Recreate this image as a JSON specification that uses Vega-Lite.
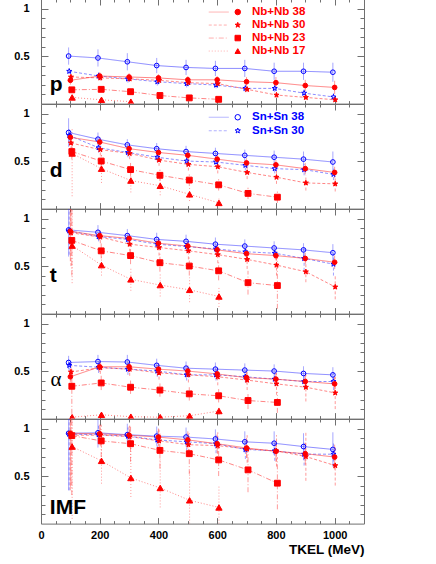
{
"$schema": "https://vega.github.io/schema/vega-lite/v6.json",
"background": "white",
"padding": {"left": 13, "top": -2, "right": 5, "bottom": 0},
"spacing": 0,
"bounds": "flush",
"config": {
  "font": "Liberation Sans",
  "view": {"stroke": "#707070", "strokeWidth": 1},
  "axis": {"domain": false, "grid": false, "tickColor": "#707070", "tickWidth": 1, "labelFont": "Liberation Sans", "labelFontWeight": "bold", "labelFontSize": 11, "labelColor": "#000", "labelOverlap": false, "labelFlush": false, "titleFont": "Liberation Sans", "titleFontWeight": "bold", "titleColor": "#000"},
  "legend": {"labelFont": "Liberation Sans", "labelFontWeight": "bold", "labelFontSize": 12, "padding": 0}
},
"resolve": {"legend": {"shape": "independent", "strokeDash": "independent"}},
"datasets": {"d": [
{"p":"p","s":"Sn+Sn","E":38,"x":94,"y":0.50,"lo":0.41,"hi":0.59},
{"p":"p","s":"Sn+Sn","E":38,"x":194,"y":0.48,"lo":0.39,"hi":0.57},
{"p":"p","s":"Sn+Sn","E":38,"x":294,"y":0.44,"lo":0.35,"hi":0.53},
{"p":"p","s":"Sn+Sn","E":38,"x":394,"y":0.40,"lo":0.32,"hi":0.48},
{"p":"p","s":"Sn+Sn","E":38,"x":494,"y":0.38,"lo":0.30,"hi":0.46},
{"p":"p","s":"Sn+Sn","E":38,"x":594,"y":0.37,"lo":0.29,"hi":0.45},
{"p":"p","s":"Sn+Sn","E":38,"x":694,"y":0.37,"lo":0.28,"hi":0.46},
{"p":"p","s":"Sn+Sn","E":38,"x":794,"y":0.34,"lo":0.25,"hi":0.43},
{"p":"p","s":"Sn+Sn","E":38,"x":894,"y":0.34,"lo":0.25,"hi":0.43},
{"p":"p","s":"Sn+Sn","E":38,"x":994,"y":0.33,"lo":0.23,"hi":0.43},
{"p":"p","s":"Sn+Sn","E":30,"x":96,"y":0.34,"lo":0.31,"hi":0.37},
{"p":"p","s":"Sn+Sn","E":30,"x":196,"y":0.29,"lo":0.25,"hi":0.33},
{"p":"p","s":"Sn+Sn","E":30,"x":296,"y":0.26,"lo":0.22,"hi":0.30},
{"p":"p","s":"Sn+Sn","E":30,"x":396,"y":0.23,"lo":0.19,"hi":0.27},
{"p":"p","s":"Sn+Sn","E":30,"x":496,"y":0.21,"lo":0.17,"hi":0.25},
{"p":"p","s":"Sn+Sn","E":30,"x":596,"y":0.195,"lo":0.16,"hi":0.23},
{"p":"p","s":"Sn+Sn","E":30,"x":696,"y":0.16,"lo":0.12,"hi":0.20},
{"p":"p","s":"Sn+Sn","E":30,"x":796,"y":0.16,"lo":0.12,"hi":0.20},
{"p":"p","s":"Sn+Sn","E":30,"x":896,"y":0.11,"lo":0.07,"hi":0.15},
{"p":"p","s":"Sn+Sn","E":30,"x":996,"y":0.07,"lo":0.03,"hi":0.11},
{"p":"p","s":"Nb+Nb","E":38,"x":100,"y":0.245,"lo":0.20,"hi":0.29},
{"p":"p","s":"Nb+Nb","E":38,"x":200,"y":0.29,"lo":0.25,"hi":0.33},
{"p":"p","s":"Nb+Nb","E":38,"x":300,"y":0.28,"lo":0.24,"hi":0.32},
{"p":"p","s":"Nb+Nb","E":38,"x":400,"y":0.27,"lo":0.23,"hi":0.31},
{"p":"p","s":"Nb+Nb","E":38,"x":500,"y":0.25,"lo":0.21,"hi":0.29},
{"p":"p","s":"Nb+Nb","E":38,"x":600,"y":0.25,"lo":0.21,"hi":0.29},
{"p":"p","s":"Nb+Nb","E":38,"x":700,"y":0.23,"lo":0.18,"hi":0.28},
{"p":"p","s":"Nb+Nb","E":38,"x":800,"y":0.22,"lo":0.16,"hi":0.28},
{"p":"p","s":"Nb+Nb","E":38,"x":900,"y":0.19,"lo":0.13,"hi":0.25},
{"p":"p","s":"Nb+Nb","E":38,"x":1000,"y":0.17,"lo":0.10,"hi":0.24},
{"p":"p","s":"Nb+Nb","E":30,"x":102,"y":0.28,"lo":0.25,"hi":0.31},
{"p":"p","s":"Nb+Nb","E":30,"x":202,"y":0.27,"lo":0.24,"hi":0.30},
{"p":"p","s":"Nb+Nb","E":30,"x":302,"y":0.26,"lo":0.23,"hi":0.29},
{"p":"p","s":"Nb+Nb","E":30,"x":402,"y":0.245,"lo":0.21,"hi":0.28},
{"p":"p","s":"Nb+Nb","E":30,"x":502,"y":0.22,"lo":0.19,"hi":0.25},
{"p":"p","s":"Nb+Nb","E":30,"x":602,"y":0.21,"lo":0.18,"hi":0.24},
{"p":"p","s":"Nb+Nb","E":30,"x":702,"y":0.15,"lo":0.12,"hi":0.18},
{"p":"p","s":"Nb+Nb","E":30,"x":802,"y":0.09,"lo":0.06,"hi":0.12},
{"p":"p","s":"Nb+Nb","E":30,"x":902,"y":0.065,"lo":0.04,"hi":0.09},
{"p":"p","s":"Nb+Nb","E":30,"x":1002,"y":0.04,"lo":0.02,"hi":0.06},
{"p":"p","s":"Nb+Nb","E":23,"x":105,"y":0.145,"lo":0.12,"hi":0.17},
{"p":"p","s":"Nb+Nb","E":23,"x":205,"y":0.15,"lo":0.13,"hi":0.17},
{"p":"p","s":"Nb+Nb","E":23,"x":305,"y":0.125,"lo":0.10,"hi":0.15},
{"p":"p","s":"Nb+Nb","E":23,"x":405,"y":0.085,"lo":0.07,"hi":0.10},
{"p":"p","s":"Nb+Nb","E":23,"x":505,"y":0.06,"lo":0.045,"hi":0.075},
{"p":"p","s":"Nb+Nb","E":23,"x":605,"y":0.045,"lo":0.03,"hi":0.06},
{"p":"p","s":"Nb+Nb","E":17,"x":106,"y":0.065,"lo":0.05,"hi":0.08},
{"p":"p","s":"Nb+Nb","E":17,"x":206,"y":0.04,"lo":0.03,"hi":0.05},
{"p":"p","s":"Nb+Nb","E":17,"x":306,"y":0.02,"lo":0.01,"hi":0.03},

{"p":"d","s":"Sn+Sn","E":38,"x":94,"y":0.80,"lo":0.65,"hi":0.95},
{"p":"d","s":"Sn+Sn","E":38,"x":194,"y":0.73,"lo":0.66,"hi":0.80},
{"p":"d","s":"Sn+Sn","E":38,"x":294,"y":0.67,"lo":0.61,"hi":0.73},
{"p":"d","s":"Sn+Sn","E":38,"x":394,"y":0.63,"lo":0.57,"hi":0.69},
{"p":"d","s":"Sn+Sn","E":38,"x":494,"y":0.60,"lo":0.54,"hi":0.66},
{"p":"d","s":"Sn+Sn","E":38,"x":594,"y":0.58,"lo":0.52,"hi":0.64},
{"p":"d","s":"Sn+Sn","E":38,"x":694,"y":0.56,"lo":0.50,"hi":0.62},
{"p":"d","s":"Sn+Sn","E":38,"x":794,"y":0.54,"lo":0.47,"hi":0.61},
{"p":"d","s":"Sn+Sn","E":38,"x":894,"y":0.52,"lo":0.44,"hi":0.60},
{"p":"d","s":"Sn+Sn","E":38,"x":994,"y":0.49,"lo":0.38,"hi":0.60},
{"p":"d","s":"Sn+Sn","E":30,"x":96,"y":0.77,"lo":0.70,"hi":0.84},
{"p":"d","s":"Sn+Sn","E":30,"x":196,"y":0.64,"lo":0.59,"hi":0.69},
{"p":"d","s":"Sn+Sn","E":30,"x":296,"y":0.59,"lo":0.54,"hi":0.64},
{"p":"d","s":"Sn+Sn","E":30,"x":396,"y":0.54,"lo":0.49,"hi":0.59},
{"p":"d","s":"Sn+Sn","E":30,"x":496,"y":0.50,"lo":0.45,"hi":0.55},
{"p":"d","s":"Sn+Sn","E":30,"x":596,"y":0.49,"lo":0.44,"hi":0.54},
{"p":"d","s":"Sn+Sn","E":30,"x":696,"y":0.455,"lo":0.40,"hi":0.51},
{"p":"d","s":"Sn+Sn","E":30,"x":796,"y":0.42,"lo":0.37,"hi":0.47},
{"p":"d","s":"Sn+Sn","E":30,"x":896,"y":0.41,"lo":0.35,"hi":0.47},
{"p":"d","s":"Sn+Sn","E":30,"x":996,"y":0.36,"lo":0.30,"hi":0.42},
{"p":"d","s":"Nb+Nb","E":38,"x":100,"y":0.75,"lo":0.70,"hi":0.80},
{"p":"d","s":"Nb+Nb","E":38,"x":200,"y":0.70,"lo":0.65,"hi":0.75},
{"p":"d","s":"Nb+Nb","E":38,"x":300,"y":0.63,"lo":0.58,"hi":0.68},
{"p":"d","s":"Nb+Nb","E":38,"x":400,"y":0.59,"lo":0.54,"hi":0.64},
{"p":"d","s":"Nb+Nb","E":38,"x":500,"y":0.56,"lo":0.51,"hi":0.61},
{"p":"d","s":"Nb+Nb","E":38,"x":600,"y":0.52,"lo":0.47,"hi":0.57},
{"p":"d","s":"Nb+Nb","E":38,"x":700,"y":0.48,"lo":0.43,"hi":0.53},
{"p":"d","s":"Nb+Nb","E":38,"x":800,"y":0.46,"lo":0.41,"hi":0.51},
{"p":"d","s":"Nb+Nb","E":38,"x":900,"y":0.42,"lo":0.36,"hi":0.48},
{"p":"d","s":"Nb+Nb","E":38,"x":1000,"y":0.38,"lo":0.32,"hi":0.44},
{"p":"d","s":"Nb+Nb","E":30,"x":102,"y":0.69,"lo":0.62,"hi":0.76},
{"p":"d","s":"Nb+Nb","E":30,"x":202,"y":0.62,"lo":0.56,"hi":0.68},
{"p":"d","s":"Nb+Nb","E":30,"x":302,"y":0.58,"lo":0.52,"hi":0.64},
{"p":"d","s":"Nb+Nb","E":30,"x":402,"y":0.51,"lo":0.45,"hi":0.57},
{"p":"d","s":"Nb+Nb","E":30,"x":502,"y":0.465,"lo":0.40,"hi":0.53},
{"p":"d","s":"Nb+Nb","E":30,"x":602,"y":0.44,"lo":0.37,"hi":0.51},
{"p":"d","s":"Nb+Nb","E":30,"x":702,"y":0.38,"lo":0.31,"hi":0.45},
{"p":"d","s":"Nb+Nb","E":30,"x":802,"y":0.33,"lo":0.26,"hi":0.40},
{"p":"d","s":"Nb+Nb","E":30,"x":902,"y":0.27,"lo":0.19,"hi":0.35},
{"p":"d","s":"Nb+Nb","E":30,"x":1002,"y":0.26,"lo":0.18,"hi":0.34},
{"p":"d","s":"Nb+Nb","E":23,"x":105,"y":0.60,"lo":0.52,"hi":0.68},
{"p":"d","s":"Nb+Nb","E":23,"x":205,"y":0.50,"lo":0.44,"hi":0.56},
{"p":"d","s":"Nb+Nb","E":23,"x":305,"y":0.41,"lo":0.34,"hi":0.48},
{"p":"d","s":"Nb+Nb","E":23,"x":405,"y":0.35,"lo":0.29,"hi":0.41},
{"p":"d","s":"Nb+Nb","E":23,"x":505,"y":0.30,"lo":0.24,"hi":0.36},
{"p":"d","s":"Nb+Nb","E":23,"x":605,"y":0.25,"lo":0.19,"hi":0.31},
{"p":"d","s":"Nb+Nb","E":23,"x":705,"y":0.16,"lo":0.10,"hi":0.22},
{"p":"d","s":"Nb+Nb","E":23,"x":805,"y":0.12,"lo":0.06,"hi":0.18},
{"p":"d","s":"Nb+Nb","E":17,"x":106,"y":0.58,"lo":0.13,"hi":0.85},
{"p":"d","s":"Nb+Nb","E":17,"x":206,"y":0.42,"lo":0.27,"hi":0.57},
{"p":"d","s":"Nb+Nb","E":17,"x":306,"y":0.295,"lo":0.17,"hi":0.45},
{"p":"d","s":"Nb+Nb","E":17,"x":406,"y":0.24,"lo":0.14,"hi":0.34},
{"p":"d","s":"Nb+Nb","E":17,"x":506,"y":0.15,"lo":0.08,"hi":0.24},
{"p":"d","s":"Nb+Nb","E":17,"x":606,"y":0.06,"lo":0.0,"hi":0.12},

{"p":"t","s":"Sn+Sn","E":38,"x":94,"y":0.88,"lo":0.60,"hi":1.2},
{"p":"t","s":"Sn+Sn","E":38,"x":194,"y":0.855,"lo":0.78,"hi":0.93},
{"p":"t","s":"Sn+Sn","E":38,"x":294,"y":0.82,"lo":0.75,"hi":0.89},
{"p":"t","s":"Sn+Sn","E":38,"x":394,"y":0.78,"lo":0.71,"hi":0.85},
{"p":"t","s":"Sn+Sn","E":38,"x":494,"y":0.76,"lo":0.69,"hi":0.83},
{"p":"t","s":"Sn+Sn","E":38,"x":594,"y":0.73,"lo":0.66,"hi":0.80},
{"p":"t","s":"Sn+Sn","E":38,"x":694,"y":0.71,"lo":0.64,"hi":0.78},
{"p":"t","s":"Sn+Sn","E":38,"x":794,"y":0.69,"lo":0.62,"hi":0.76},
{"p":"t","s":"Sn+Sn","E":38,"x":894,"y":0.67,"lo":0.60,"hi":0.74},
{"p":"t","s":"Sn+Sn","E":38,"x":994,"y":0.64,"lo":0.55,"hi":0.73},
{"p":"t","s":"Sn+Sn","E":30,"x":96,"y":0.87,"lo":0.62,"hi":1.2},
{"p":"t","s":"Sn+Sn","E":30,"x":196,"y":0.81,"lo":0.76,"hi":0.86},
{"p":"t","s":"Sn+Sn","E":30,"x":296,"y":0.78,"lo":0.73,"hi":0.83},
{"p":"t","s":"Sn+Sn","E":30,"x":396,"y":0.73,"lo":0.68,"hi":0.78},
{"p":"t","s":"Sn+Sn","E":30,"x":496,"y":0.705,"lo":0.65,"hi":0.76},
{"p":"t","s":"Sn+Sn","E":30,"x":596,"y":0.68,"lo":0.63,"hi":0.73},
{"p":"t","s":"Sn+Sn","E":30,"x":696,"y":0.65,"lo":0.60,"hi":0.70},
{"p":"t","s":"Sn+Sn","E":30,"x":796,"y":0.635,"lo":0.58,"hi":0.69},
{"p":"t","s":"Sn+Sn","E":30,"x":896,"y":0.58,"lo":0.45,"hi":0.71},
{"p":"t","s":"Sn+Sn","E":30,"x":996,"y":0.52,"lo":0.40,"hi":0.64},
{"p":"t","s":"Nb+Nb","E":38,"x":100,"y":0.865,"lo":0.55,"hi":1.2},
{"p":"t","s":"Nb+Nb","E":38,"x":200,"y":0.82,"lo":0.77,"hi":0.87},
{"p":"t","s":"Nb+Nb","E":38,"x":300,"y":0.79,"lo":0.74,"hi":0.84},
{"p":"t","s":"Nb+Nb","E":38,"x":400,"y":0.74,"lo":0.69,"hi":0.79},
{"p":"t","s":"Nb+Nb","E":38,"x":500,"y":0.71,"lo":0.66,"hi":0.76},
{"p":"t","s":"Nb+Nb","E":38,"x":600,"y":0.67,"lo":0.62,"hi":0.72},
{"p":"t","s":"Nb+Nb","E":38,"x":700,"y":0.63,"lo":0.58,"hi":0.68},
{"p":"t","s":"Nb+Nb","E":38,"x":800,"y":0.61,"lo":0.56,"hi":0.66},
{"p":"t","s":"Nb+Nb","E":38,"x":900,"y":0.58,"lo":0.52,"hi":0.64},
{"p":"t","s":"Nb+Nb","E":38,"x":1000,"y":0.54,"lo":0.47,"hi":0.61},
{"p":"t","s":"Nb+Nb","E":30,"x":102,"y":0.85,"lo":0.50,"hi":1.2},
{"p":"t","s":"Nb+Nb","E":30,"x":202,"y":0.805,"lo":0.74,"hi":0.87},
{"p":"t","s":"Nb+Nb","E":30,"x":302,"y":0.73,"lo":0.65,"hi":0.81},
{"p":"t","s":"Nb+Nb","E":30,"x":402,"y":0.695,"lo":0.61,"hi":0.78},
{"p":"t","s":"Nb+Nb","E":30,"x":502,"y":0.66,"lo":0.57,"hi":0.75},
{"p":"t","s":"Nb+Nb","E":30,"x":602,"y":0.62,"lo":0.53,"hi":0.71},
{"p":"t","s":"Nb+Nb","E":30,"x":702,"y":0.57,"lo":0.47,"hi":0.67},
{"p":"t","s":"Nb+Nb","E":30,"x":802,"y":0.51,"lo":0.40,"hi":0.62},
{"p":"t","s":"Nb+Nb","E":30,"x":902,"y":0.44,"lo":0.33,"hi":0.55},
{"p":"t","s":"Nb+Nb","E":30,"x":1002,"y":0.28,"lo":0.15,"hi":0.41},
{"p":"t","s":"Nb+Nb","E":23,"x":105,"y":0.77,"lo":0.40,"hi":1.2},
{"p":"t","s":"Nb+Nb","E":23,"x":205,"y":0.66,"lo":0.58,"hi":0.74},
{"p":"t","s":"Nb+Nb","E":23,"x":305,"y":0.61,"lo":0.52,"hi":0.70},
{"p":"t","s":"Nb+Nb","E":23,"x":405,"y":0.535,"lo":0.44,"hi":0.63},
{"p":"t","s":"Nb+Nb","E":23,"x":505,"y":0.50,"lo":0.40,"hi":0.60},
{"p":"t","s":"Nb+Nb","E":23,"x":605,"y":0.45,"lo":0.35,"hi":0.55},
{"p":"t","s":"Nb+Nb","E":23,"x":705,"y":0.325,"lo":0.20,"hi":0.45},
{"p":"t","s":"Nb+Nb","E":23,"x":805,"y":0.295,"lo":0.05,"hi":0.60},
{"p":"t","s":"Nb+Nb","E":17,"x":106,"y":0.715,"lo":0.32,"hi":1.2},
{"p":"t","s":"Nb+Nb","E":17,"x":206,"y":0.51,"lo":0.40,"hi":0.62},
{"p":"t","s":"Nb+Nb","E":17,"x":306,"y":0.36,"lo":0.24,"hi":0.48},
{"p":"t","s":"Nb+Nb","E":17,"x":406,"y":0.30,"lo":0.18,"hi":0.42},
{"p":"t","s":"Nb+Nb","E":17,"x":506,"y":0.25,"lo":0.12,"hi":0.38},
{"p":"t","s":"Nb+Nb","E":17,"x":606,"y":0.18,"lo":0.07,"hi":0.29},

{"p":"a","s":"Sn+Sn","E":38,"x":94,"y":0.59,"lo":0.52,"hi":0.66},
{"p":"a","s":"Sn+Sn","E":38,"x":194,"y":0.60,"lo":0.53,"hi":0.67},
{"p":"a","s":"Sn+Sn","E":38,"x":294,"y":0.595,"lo":0.52,"hi":0.67},
{"p":"a","s":"Sn+Sn","E":38,"x":394,"y":0.56,"lo":0.49,"hi":0.63},
{"p":"a","s":"Sn+Sn","E":38,"x":494,"y":0.53,"lo":0.46,"hi":0.60},
{"p":"a","s":"Sn+Sn","E":38,"x":594,"y":0.52,"lo":0.45,"hi":0.59},
{"p":"a","s":"Sn+Sn","E":38,"x":694,"y":0.51,"lo":0.44,"hi":0.58},
{"p":"a","s":"Sn+Sn","E":38,"x":794,"y":0.50,"lo":0.43,"hi":0.57},
{"p":"a","s":"Sn+Sn","E":38,"x":894,"y":0.475,"lo":0.40,"hi":0.55},
{"p":"a","s":"Sn+Sn","E":38,"x":994,"y":0.46,"lo":0.38,"hi":0.54},
{"p":"a","s":"Sn+Sn","E":30,"x":96,"y":0.56,"lo":0.50,"hi":0.62},
{"p":"a","s":"Sn+Sn","E":30,"x":196,"y":0.54,"lo":0.48,"hi":0.60},
{"p":"a","s":"Sn+Sn","E":30,"x":296,"y":0.52,"lo":0.46,"hi":0.58},
{"p":"a","s":"Sn+Sn","E":30,"x":396,"y":0.50,"lo":0.44,"hi":0.56},
{"p":"a","s":"Sn+Sn","E":30,"x":496,"y":0.46,"lo":0.40,"hi":0.52},
{"p":"a","s":"Sn+Sn","E":30,"x":596,"y":0.46,"lo":0.40,"hi":0.52},
{"p":"a","s":"Sn+Sn","E":30,"x":696,"y":0.44,"lo":0.38,"hi":0.50},
{"p":"a","s":"Sn+Sn","E":30,"x":796,"y":0.415,"lo":0.35,"hi":0.48},
{"p":"a","s":"Sn+Sn","E":30,"x":896,"y":0.39,"lo":0.32,"hi":0.46},
{"p":"a","s":"Sn+Sn","E":30,"x":996,"y":0.39,"lo":0.30,"hi":0.48},
{"p":"a","s":"Nb+Nb","E":38,"x":100,"y":0.44,"lo":0.38,"hi":0.50},
{"p":"a","s":"Nb+Nb","E":38,"x":200,"y":0.545,"lo":0.49,"hi":0.60},
{"p":"a","s":"Nb+Nb","E":38,"x":300,"y":0.545,"lo":0.49,"hi":0.60},
{"p":"a","s":"Nb+Nb","E":38,"x":400,"y":0.52,"lo":0.46,"hi":0.58},
{"p":"a","s":"Nb+Nb","E":38,"x":500,"y":0.50,"lo":0.44,"hi":0.56},
{"p":"a","s":"Nb+Nb","E":38,"x":600,"y":0.47,"lo":0.41,"hi":0.53},
{"p":"a","s":"Nb+Nb","E":38,"x":700,"y":0.43,"lo":0.37,"hi":0.49},
{"p":"a","s":"Nb+Nb","E":38,"x":800,"y":0.415,"lo":0.35,"hi":0.48},
{"p":"a","s":"Nb+Nb","E":38,"x":900,"y":0.39,"lo":0.32,"hi":0.46},
{"p":"a","s":"Nb+Nb","E":38,"x":1000,"y":0.365,"lo":0.29,"hi":0.44},
{"p":"a","s":"Nb+Nb","E":30,"x":102,"y":0.49,"lo":0.40,"hi":0.58},
{"p":"a","s":"Nb+Nb","E":30,"x":202,"y":0.535,"lo":0.47,"hi":0.60},
{"p":"a","s":"Nb+Nb","E":30,"x":302,"y":0.52,"lo":0.45,"hi":0.59},
{"p":"a","s":"Nb+Nb","E":30,"x":402,"y":0.48,"lo":0.41,"hi":0.55},
{"p":"a","s":"Nb+Nb","E":30,"x":502,"y":0.46,"lo":0.38,"hi":0.54},
{"p":"a","s":"Nb+Nb","E":30,"x":602,"y":0.44,"lo":0.35,"hi":0.53},
{"p":"a","s":"Nb+Nb","E":30,"x":702,"y":0.405,"lo":0.30,"hi":0.51},
{"p":"a","s":"Nb+Nb","E":30,"x":802,"y":0.365,"lo":0.25,"hi":0.48},
{"p":"a","s":"Nb+Nb","E":30,"x":902,"y":0.33,"lo":0.18,"hi":0.48},
{"p":"a","s":"Nb+Nb","E":30,"x":1002,"y":0.27,"lo":0.10,"hi":0.44},
{"p":"a","s":"Nb+Nb","E":23,"x":105,"y":0.34,"lo":0.05,"hi":0.55},
{"p":"a","s":"Nb+Nb","E":23,"x":205,"y":0.375,"lo":0.30,"hi":0.45},
{"p":"a","s":"Nb+Nb","E":23,"x":305,"y":0.33,"lo":0.26,"hi":0.40},
{"p":"a","s":"Nb+Nb","E":23,"x":405,"y":0.30,"lo":0.23,"hi":0.37},
{"p":"a","s":"Nb+Nb","E":23,"x":505,"y":0.26,"lo":0.19,"hi":0.33},
{"p":"a","s":"Nb+Nb","E":23,"x":605,"y":0.24,"lo":0.17,"hi":0.31},
{"p":"a","s":"Nb+Nb","E":23,"x":705,"y":0.19,"lo":0.10,"hi":0.28},
{"p":"a","s":"Nb+Nb","E":23,"x":805,"y":0.17,"lo":0.06,"hi":0.28},
{"p":"a","s":"Nb+Nb","E":17,"x":106,"y":0.015,"lo":0.0,"hi":0.03},
{"p":"a","s":"Nb+Nb","E":17,"x":206,"y":0.04,"lo":0.02,"hi":0.06},
{"p":"a","s":"Nb+Nb","E":17,"x":306,"y":0.02,"lo":0.0,"hi":0.04},
{"p":"a","s":"Nb+Nb","E":17,"x":406,"y":0.015,"lo":0.0,"hi":0.03},
{"p":"a","s":"Nb+Nb","E":17,"x":506,"y":0.03,"lo":0.01,"hi":0.05},
{"p":"a","s":"Nb+Nb","E":17,"x":606,"y":0.08,"lo":0.04,"hi":0.12},

{"p":"IMF","s":"Sn+Sn","E":38,"x":94,"y":0.95,"lo":0.35,"hi":1.2},
{"p":"IMF","s":"Sn+Sn","E":38,"x":194,"y":0.955,"lo":0.80,"hi":1.1},
{"p":"IMF","s":"Sn+Sn","E":38,"x":294,"y":0.935,"lo":0.82,"hi":1.05},
{"p":"IMF","s":"Sn+Sn","E":38,"x":394,"y":0.92,"lo":0.82,"hi":1.02},
{"p":"IMF","s":"Sn+Sn","E":38,"x":494,"y":0.91,"lo":0.81,"hi":1.01},
{"p":"IMF","s":"Sn+Sn","E":38,"x":594,"y":0.89,"lo":0.79,"hi":0.99},
{"p":"IMF","s":"Sn+Sn","E":38,"x":694,"y":0.86,"lo":0.75,"hi":0.97},
{"p":"IMF","s":"Sn+Sn","E":38,"x":794,"y":0.845,"lo":0.72,"hi":0.97},
{"p":"IMF","s":"Sn+Sn","E":38,"x":894,"y":0.81,"lo":0.67,"hi":0.95},
{"p":"IMF","s":"Sn+Sn","E":38,"x":994,"y":0.78,"lo":0.60,"hi":0.96},
{"p":"IMF","s":"Sn+Sn","E":30,"x":96,"y":0.94,"lo":0.35,"hi":1.2},
{"p":"IMF","s":"Sn+Sn","E":30,"x":196,"y":0.935,"lo":0.84,"hi":1.03},
{"p":"IMF","s":"Sn+Sn","E":30,"x":296,"y":0.92,"lo":0.83,"hi":1.01},
{"p":"IMF","s":"Sn+Sn","E":30,"x":396,"y":0.88,"lo":0.79,"hi":0.97},
{"p":"IMF","s":"Sn+Sn","E":30,"x":496,"y":0.86,"lo":0.77,"hi":0.95},
{"p":"IMF","s":"Sn+Sn","E":30,"x":596,"y":0.84,"lo":0.74,"hi":0.94},
{"p":"IMF","s":"Sn+Sn","E":30,"x":696,"y":0.78,"lo":0.68,"hi":0.88},
{"p":"IMF","s":"Sn+Sn","E":30,"x":796,"y":0.765,"lo":0.66,"hi":0.87},
{"p":"IMF","s":"Sn+Sn","E":30,"x":896,"y":0.73,"lo":0.61,"hi":0.85},
{"p":"IMF","s":"Sn+Sn","E":30,"x":996,"y":0.73,"lo":0.60,"hi":0.86},
{"p":"IMF","s":"Nb+Nb","E":38,"x":100,"y":0.95,"lo":0.35,"hi":1.2},
{"p":"IMF","s":"Nb+Nb","E":38,"x":200,"y":0.945,"lo":0.85,"hi":1.04},
{"p":"IMF","s":"Nb+Nb","E":38,"x":300,"y":0.93,"lo":0.84,"hi":1.02},
{"p":"IMF","s":"Nb+Nb","E":38,"x":400,"y":0.91,"lo":0.82,"hi":1.0},
{"p":"IMF","s":"Nb+Nb","E":38,"x":500,"y":0.88,"lo":0.79,"hi":0.97},
{"p":"IMF","s":"Nb+Nb","E":38,"x":600,"y":0.84,"lo":0.74,"hi":0.94},
{"p":"IMF","s":"Nb+Nb","E":38,"x":700,"y":0.795,"lo":0.69,"hi":0.90},
{"p":"IMF","s":"Nb+Nb","E":38,"x":800,"y":0.76,"lo":0.65,"hi":0.87},
{"p":"IMF","s":"Nb+Nb","E":38,"x":900,"y":0.735,"lo":0.62,"hi":0.85},
{"p":"IMF","s":"Nb+Nb","E":38,"x":1000,"y":0.70,"lo":0.57,"hi":0.83},
{"p":"IMF","s":"Nb+Nb","E":30,"x":102,"y":0.93,"lo":0.40,"hi":1.2},
{"p":"IMF","s":"Nb+Nb","E":30,"x":202,"y":0.93,"lo":0.82,"hi":1.04},
{"p":"IMF","s":"Nb+Nb","E":30,"x":302,"y":0.915,"lo":0.80,"hi":1.03},
{"p":"IMF","s":"Nb+Nb","E":30,"x":402,"y":0.87,"lo":0.75,"hi":0.99},
{"p":"IMF","s":"Nb+Nb","E":30,"x":502,"y":0.83,"lo":0.70,"hi":0.96},
{"p":"IMF","s":"Nb+Nb","E":30,"x":602,"y":0.82,"lo":0.68,"hi":0.96},
{"p":"IMF","s":"Nb+Nb","E":30,"x":702,"y":0.785,"lo":0.64,"hi":0.93},
{"p":"IMF","s":"Nb+Nb","E":30,"x":802,"y":0.765,"lo":0.60,"hi":0.93},
{"p":"IMF","s":"Nb+Nb","E":30,"x":902,"y":0.705,"lo":0.45,"hi":0.96},
{"p":"IMF","s":"Nb+Nb","E":30,"x":1002,"y":0.61,"lo":0.40,"hi":0.82},
{"p":"IMF","s":"Nb+Nb","E":23,"x":105,"y":0.925,"lo":0.30,"hi":1.2},
{"p":"IMF","s":"Nb+Nb","E":23,"x":205,"y":0.87,"lo":0.70,"hi":1.04},
{"p":"IMF","s":"Nb+Nb","E":23,"x":305,"y":0.84,"lo":0.65,"hi":1.03},
{"p":"IMF","s":"Nb+Nb","E":23,"x":405,"y":0.77,"lo":0.58,"hi":0.96},
{"p":"IMF","s":"Nb+Nb","E":23,"x":505,"y":0.735,"lo":0.52,"hi":0.95},
{"p":"IMF","s":"Nb+Nb","E":23,"x":605,"y":0.67,"lo":0.50,"hi":0.84},
{"p":"IMF","s":"Nb+Nb","E":23,"x":705,"y":0.565,"lo":0.33,"hi":0.80},
{"p":"IMF","s":"Nb+Nb","E":23,"x":805,"y":0.425,"lo":0.15,"hi":0.70},
{"p":"IMF","s":"Nb+Nb","E":17,"x":106,"y":0.81,"lo":0.05,"hi":1.2},
{"p":"IMF","s":"Nb+Nb","E":17,"x":206,"y":0.66,"lo":0.42,"hi":0.90},
{"p":"IMF","s":"Nb+Nb","E":17,"x":306,"y":0.48,"lo":0.28,"hi":0.80},
{"p":"IMF","s":"Nb+Nb","E":17,"x":406,"y":0.375,"lo":0.17,"hi":0.68},
{"p":"IMF","s":"Nb+Nb","E":17,"x":506,"y":0.245,"lo":0.0,"hi":0.55},
{"p":"IMF","s":"Nb+Nb","E":17,"x":606,"y":0.17,"lo":0.0,"hi":0.40}
]},
"data": {"name": "d"},
"vconcat": [
{
 "width": 323, "height": 104.6,
 "transform": [{"filter": "datum.p === 'p'"}],
 "resolve": {"axis": {"x": "independent", "y": "independent"}, "legend": {"shape": "independent", "strokeDash": "independent"}},
 "layer": [
  {"mark": {"type": "rule", "clip": true, "strokeWidth": 1, "opacity": 0.45},
   "encoding": {
    "x": {"field": "x", "type": "quantitative", "scale": {"domain": [0, 1100], "nice": false}, "axis": {"orient": "bottom", "title": null, "labels": false, "minExtent": 0, "maxExtent": 0, "values": [0,50,100,150,200,250,300,350,400,450,500,550,600,650,700,750,800,850,900,950,1000,1050], "tickSize": {"condition": {"test": "datum.value % 200 == 0", "value": -6}, "value": -3}}},
    "y": {"field": "lo", "type": "quantitative", "scale": {"domain": [0, 1.1], "nice": false}, "axis": {"orient": "left", "title": null, "values": [0.1,0.2,0.3,0.4,0.5,0.6,0.7,0.8,0.9,1], "labelExpr": "datum.value == 1 ? '1' : datum.value == 0.5 ? '0.5' : ''", "labelPadding": 19, "tickSize": {"condition": {"test": "datum.value == 0.5 || datum.value == 1", "value": -7}, "value": -4}}},
    "y2": {"field": "hi"},
    "color": {"field": "s", "type": "nominal", "scale": {"domain": ["Nb+Nb", "Sn+Sn"], "range": ["#ff2020", "#3030ff"]}, "legend": null},
    "strokeDash": {"field": "E", "type": "nominal", "scale": {"domain": [38, 30, 23, 17], "range": [[1, 0], [3, 2], [5, 2, 1, 2], [1, 2]]}, "legend": null}
   }},
  {"mark": {"type": "line", "clip": true, "strokeWidth": 1, "opacity": 0.55},
   "encoding": {
    "x": {"field": "x", "type": "quantitative", "axis": {"orient": "top", "title": null, "labels": false, "minExtent": 0, "maxExtent": 0, "values": [0,50,100,150,200,250,300,350,400,450,500,550,600,650,700,750,800,850,900,950,1000,1050], "tickSize": {"condition": {"test": "datum.value % 200 == 0", "value": -6}, "value": -3}}},
    "y": {"field": "y", "type": "quantitative", "axis": {"orient": "right", "title": null, "labels": false, "minExtent": 0, "maxExtent": 0, "values": [0.1,0.2,0.3,0.4,0.5,0.6,0.7,0.8,0.9,1], "tickSize": {"condition": {"test": "datum.value == 0.5 || datum.value == 1", "value": -7}, "value": -4}}},
    "color": {"field": "s", "type": "nominal", "legend": null},
    "strokeDash": {"field": "E", "type": "nominal", "legend": {"orient": "none", "legendX": 172, "legendY": 7.3, "title": null, "symbolType": "M-4,0H4", "symbolSize": 25, "symbolStrokeColor": "#ff7070", "symbolStrokeWidth": 1, "labelExpr": "''", "labelFontSize": 11.5, "rowPadding": 0}}
   }},
  {"mark": {"type": "point", "clip": true, "strokeWidth": 1, "opacity": 1},
   "encoding": {
    "x": {"field": "x", "type": "quantitative", "axis": null},
    "y": {"field": "y", "type": "quantitative", "axis": null},
    "shape": {"field": "E", "type": "nominal", "scale": {"domain": [38, 30, 23, 17], "range": ["circle", "M0,-1L0.235,-0.324L0.951,-0.309L0.38,0.124L0.588,0.809L0,0.4L-0.588,0.809L-0.38,0.124L-0.951,-0.309L-0.235,-0.324Z", "square", "triangle-up"]}, "legend": {"orient": "none", "legendX": 191, "legendY": 7.3, "title": null, "symbolFillColor": "#ff0000", "symbolStrokeColor": "#ff0000", "symbolSize": 30, "symbolStrokeWidth": 1, "labelExpr": "'Nb+Nb ' + datum.label", "labelColor": "#ff0000", "labelFontSize": 11.5, "labelOffset": 8.5, "rowPadding": 0}},
    "size": {"field": "E", "type": "ordinal", "scale": {"domain": [38, 30, 23, 17], "range": [22, 40, 26, 22]}, "legend": null},
    "stroke": {"field": "s", "type": "nominal", "scale": {"domain": ["Nb+Nb", "Sn+Sn"], "range": ["#ff0000", "#0000ff"]}, "legend": null},
    "fill": {"field": "s", "type": "nominal", "scale": {"domain": ["Nb+Nb", "Sn+Sn"], "range": ["#ff0000", "transparent"]}, "legend": null}
   }},
  {"data": {"values": [{"lab": "p"}]},
   "mark": {"type": "text", "font": "Liberation Sans", "fontWeight": "bold", "fontSize": 21, "align": "left", "baseline": "alphabetic"},
   "encoding": {"x": {"datum": 30, "type": "quantitative", "axis": null}, "y": {"datum": 0.13, "type": "quantitative", "axis": null}, "text": {"field": "lab"}}}
 ]
},
{
 "width": 323, "height": 104.6,
 "transform": [{"filter": "datum.p === 'd'"}],
 "resolve": {"axis": {"x": "independent", "y": "independent"}, "legend": {"shape": "independent", "strokeDash": "independent"}},
 "layer": [
  {"mark": {"type": "rule", "clip": true, "strokeWidth": 1, "opacity": 0.45},
   "encoding": {
    "x": {"field": "x", "type": "quantitative", "scale": {"domain": [0, 1100], "nice": false}, "axis": {"orient": "bottom", "title": null, "labels": false, "minExtent": 0, "maxExtent": 0, "values": [0,50,100,150,200,250,300,350,400,450,500,550,600,650,700,750,800,850,900,950,1000,1050], "tickSize": {"condition": {"test": "datum.value % 200 == 0", "value": -6}, "value": -3}}},
    "y": {"field": "lo", "type": "quantitative", "scale": {"domain": [0, 1.1], "nice": false}, "axis": {"orient": "left", "title": null, "values": [0.1,0.2,0.3,0.4,0.5,0.6,0.7,0.8,0.9,1], "labelExpr": "datum.value == 1 ? '1' : datum.value == 0.5 ? '0.5' : ''", "labelPadding": 19, "tickSize": {"condition": {"test": "datum.value == 0.5 || datum.value == 1", "value": -7}, "value": -4}}},
    "y2": {"field": "hi"},
    "color": {"field": "s", "type": "nominal", "scale": {"domain": ["Nb+Nb", "Sn+Sn"], "range": ["#ff2020", "#3030ff"]}, "legend": null},
    "strokeDash": {"field": "E", "type": "nominal", "scale": {"domain": [38, 30, 23, 17], "range": [[1, 0], [3, 2], [5, 2, 1, 2], [1, 2]]}, "legend": null}
   }},
  {"mark": {"type": "line", "clip": true, "strokeWidth": 1, "opacity": 0.55},
   "encoding": {
    "x": {"field": "x", "type": "quantitative", "axis": {"orient": "top", "title": null, "labels": false, "minExtent": 0, "maxExtent": 0, "values": [0,50,100,150,200,250,300,350,400,450,500,550,600,650,700,750,800,850,900,950,1000,1050], "tickSize": {"condition": {"test": "datum.value % 200 == 0", "value": -6}, "value": -3}}},
    "y": {"field": "y", "type": "quantitative", "axis": {"orient": "right", "title": null, "labels": false, "minExtent": 0, "maxExtent": 0, "values": [0.1,0.2,0.3,0.4,0.5,0.6,0.7,0.8,0.9,1], "tickSize": {"condition": {"test": "datum.value == 0.5 || datum.value == 1", "value": -7}, "value": -4}}},
    "color": {"field": "s", "type": "nominal", "legend": null},
    "strokeDash": {"field": "E", "type": "nominal", "legend": {"orient": "none", "legendX": 172, "legendY": 7.5, "title": null, "values": [38, 30], "symbolType": "M-4,0H4", "symbolSize": 25, "symbolStrokeColor": "#7070ff", "symbolStrokeWidth": 1, "labelExpr": "''", "labelFontSize": 11.5, "rowPadding": 0.5}}
   }},
  {"mark": {"type": "point", "clip": true, "strokeWidth": 1, "opacity": 1},
   "encoding": {
    "x": {"field": "x", "type": "quantitative", "axis": null},
    "y": {"field": "y", "type": "quantitative", "axis": null},
    "shape": {"field": "E", "type": "nominal", "scale": {"domain": [38, 30, 23, 17], "range": ["circle", "M0,-1L0.235,-0.324L0.951,-0.309L0.38,0.124L0.588,0.809L0,0.4L-0.588,0.809L-0.38,0.124L-0.951,-0.309L-0.235,-0.324Z", "square", "triangle-up"]}, "legend": {"orient": "none", "legendX": 191, "legendY": 7.5, "title": null, "values": [38, 30], "symbolFillColor": "transparent", "symbolStrokeColor": "#0000ff", "symbolSize": 30, "symbolStrokeWidth": 1, "labelExpr": "'Sn+Sn ' + datum.label", "labelColor": "#0000ff", "labelFontSize": 11.5, "labelOffset": 8.5, "rowPadding": 0.5}},
    "size": {"field": "E", "type": "ordinal", "scale": {"domain": [38, 30, 23, 17], "range": [22, 40, 26, 22]}, "legend": null},
    "stroke": {"field": "s", "type": "nominal", "scale": {"domain": ["Nb+Nb", "Sn+Sn"], "range": ["#ff0000", "#0000ff"]}, "legend": null},
    "fill": {"field": "s", "type": "nominal", "scale": {"domain": ["Nb+Nb", "Sn+Sn"], "range": ["#ff0000", "transparent"]}, "legend": null}
   }},
  {"data": {"values": [{"lab": "d"}]},
   "mark": {"type": "text", "font": "Liberation Sans", "fontWeight": "bold", "fontSize": 21, "align": "left", "baseline": "alphabetic"},
   "encoding": {"x": {"datum": 30, "type": "quantitative", "axis": null}, "y": {"datum": 0.33, "type": "quantitative", "axis": null}, "text": {"field": "lab"}}}
 ]
},
{
 "width": 323, "height": 104.6,
 "transform": [{"filter": "datum.p === 't'"}],
 "resolve": {"axis": {"x": "independent", "y": "independent"}, "legend": {"shape": "independent", "strokeDash": "independent"}},
 "layer": [
  {"mark": {"type": "rule", "clip": true, "strokeWidth": 1, "opacity": 0.45},
   "encoding": {
    "x": {"field": "x", "type": "quantitative", "scale": {"domain": [0, 1100], "nice": false}, "axis": {"orient": "bottom", "title": null, "labels": false, "minExtent": 0, "maxExtent": 0, "values": [0,50,100,150,200,250,300,350,400,450,500,550,600,650,700,750,800,850,900,950,1000,1050], "tickSize": {"condition": {"test": "datum.value % 200 == 0", "value": -6}, "value": -3}}},
    "y": {"field": "lo", "type": "quantitative", "scale": {"domain": [0, 1.1], "nice": false}, "axis": {"orient": "left", "title": null, "values": [0.1,0.2,0.3,0.4,0.5,0.6,0.7,0.8,0.9,1], "labelExpr": "datum.value == 1 ? '1' : datum.value == 0.5 ? '0.5' : ''", "labelPadding": 19, "tickSize": {"condition": {"test": "datum.value == 0.5 || datum.value == 1", "value": -7}, "value": -4}}},
    "y2": {"field": "hi"},
    "color": {"field": "s", "type": "nominal", "scale": {"domain": ["Nb+Nb", "Sn+Sn"], "range": ["#ff2020", "#3030ff"]}, "legend": null},
    "strokeDash": {"field": "E", "type": "nominal", "scale": {"domain": [38, 30, 23, 17], "range": [[1, 0], [3, 2], [5, 2, 1, 2], [1, 2]]}, "legend": null}
   }},
  {"mark": {"type": "line", "clip": true, "strokeWidth": 1, "opacity": 0.55},
   "encoding": {
    "x": {"field": "x", "type": "quantitative", "axis": {"orient": "top", "title": null, "labels": false, "minExtent": 0, "maxExtent": 0, "values": [0,50,100,150,200,250,300,350,400,450,500,550,600,650,700,750,800,850,900,950,1000,1050], "tickSize": {"condition": {"test": "datum.value % 200 == 0", "value": -6}, "value": -3}}},
    "y": {"field": "y", "type": "quantitative", "axis": {"orient": "right", "title": null, "labels": false, "minExtent": 0, "maxExtent": 0, "values": [0.1,0.2,0.3,0.4,0.5,0.6,0.7,0.8,0.9,1], "tickSize": {"condition": {"test": "datum.value == 0.5 || datum.value == 1", "value": -7}, "value": -4}}},
    "color": {"field": "s", "type": "nominal", "legend": null},
    "strokeDash": {"field": "E", "type": "nominal", "legend": null}
   }},
  {"mark": {"type": "point", "clip": true, "strokeWidth": 1, "opacity": 1},
   "encoding": {
    "x": {"field": "x", "type": "quantitative", "axis": null},
    "y": {"field": "y", "type": "quantitative", "axis": null},
    "shape": {"field": "E", "type": "nominal", "scale": {"domain": [38, 30, 23, 17], "range": ["circle", "M0,-1L0.235,-0.324L0.951,-0.309L0.38,0.124L0.588,0.809L0,0.4L-0.588,0.809L-0.38,0.124L-0.951,-0.309L-0.235,-0.324Z", "square", "triangle-up"]}, "legend": null},
    "size": {"field": "E", "type": "ordinal", "scale": {"domain": [38, 30, 23, 17], "range": [22, 40, 26, 22]}, "legend": null},
    "stroke": {"field": "s", "type": "nominal", "scale": {"domain": ["Nb+Nb", "Sn+Sn"], "range": ["#ff0000", "#0000ff"]}, "legend": null},
    "fill": {"field": "s", "type": "nominal", "scale": {"domain": ["Nb+Nb", "Sn+Sn"], "range": ["#ff0000", "transparent"]}, "legend": null}
   }},
  {"data": {"values": [{"lab": "t"}]},
   "mark": {"type": "text", "font": "Liberation Sans", "fontWeight": "bold", "fontSize": 21, "align": "left", "baseline": "alphabetic"},
   "encoding": {"x": {"datum": 30, "type": "quantitative", "axis": null}, "y": {"datum": 0.33, "type": "quantitative", "axis": null}, "text": {"field": "lab"}}}
 ]
},
{
 "width": 323, "height": 104.6,
 "transform": [{"filter": "datum.p === 'a'"}],
 "resolve": {"axis": {"x": "independent", "y": "independent"}, "legend": {"shape": "independent", "strokeDash": "independent"}},
 "layer": [
  {"mark": {"type": "rule", "clip": true, "strokeWidth": 1, "opacity": 0.45},
   "encoding": {
    "x": {"field": "x", "type": "quantitative", "scale": {"domain": [0, 1100], "nice": false}, "axis": {"orient": "bottom", "title": null, "labels": false, "minExtent": 0, "maxExtent": 0, "values": [0,50,100,150,200,250,300,350,400,450,500,550,600,650,700,750,800,850,900,950,1000,1050], "tickSize": {"condition": {"test": "datum.value % 200 == 0", "value": -6}, "value": -3}}},
    "y": {"field": "lo", "type": "quantitative", "scale": {"domain": [0, 1.1], "nice": false}, "axis": {"orient": "left", "title": null, "values": [0.1,0.2,0.3,0.4,0.5,0.6,0.7,0.8,0.9,1], "labelExpr": "datum.value == 1 ? '1' : datum.value == 0.5 ? '0.5' : ''", "labelPadding": 19, "tickSize": {"condition": {"test": "datum.value == 0.5 || datum.value == 1", "value": -7}, "value": -4}}},
    "y2": {"field": "hi"},
    "color": {"field": "s", "type": "nominal", "scale": {"domain": ["Nb+Nb", "Sn+Sn"], "range": ["#ff2020", "#3030ff"]}, "legend": null},
    "strokeDash": {"field": "E", "type": "nominal", "scale": {"domain": [38, 30, 23, 17], "range": [[1, 0], [3, 2], [5, 2, 1, 2], [1, 2]]}, "legend": null}
   }},
  {"mark": {"type": "line", "clip": true, "strokeWidth": 1, "opacity": 0.55},
   "encoding": {
    "x": {"field": "x", "type": "quantitative", "axis": {"orient": "top", "title": null, "labels": false, "minExtent": 0, "maxExtent": 0, "values": [0,50,100,150,200,250,300,350,400,450,500,550,600,650,700,750,800,850,900,950,1000,1050], "tickSize": {"condition": {"test": "datum.value % 200 == 0", "value": -6}, "value": -3}}},
    "y": {"field": "y", "type": "quantitative", "axis": {"orient": "right", "title": null, "labels": false, "minExtent": 0, "maxExtent": 0, "values": [0.1,0.2,0.3,0.4,0.5,0.6,0.7,0.8,0.9,1], "tickSize": {"condition": {"test": "datum.value == 0.5 || datum.value == 1", "value": -7}, "value": -4}}},
    "color": {"field": "s", "type": "nominal", "legend": null},
    "strokeDash": {"field": "E", "type": "nominal", "legend": null}
   }},
  {"mark": {"type": "point", "clip": true, "strokeWidth": 1, "opacity": 1},
   "encoding": {
    "x": {"field": "x", "type": "quantitative", "axis": null},
    "y": {"field": "y", "type": "quantitative", "axis": null},
    "shape": {"field": "E", "type": "nominal", "scale": {"domain": [38, 30, 23, 17], "range": ["circle", "M0,-1L0.235,-0.324L0.951,-0.309L0.38,0.124L0.588,0.809L0,0.4L-0.588,0.809L-0.38,0.124L-0.951,-0.309L-0.235,-0.324Z", "square", "triangle-up"]}, "legend": null},
    "size": {"field": "E", "type": "ordinal", "scale": {"domain": [38, 30, 23, 17], "range": [22, 40, 26, 22]}, "legend": null},
    "stroke": {"field": "s", "type": "nominal", "scale": {"domain": ["Nb+Nb", "Sn+Sn"], "range": ["#ff0000", "#0000ff"]}, "legend": null},
    "fill": {"field": "s", "type": "nominal", "scale": {"domain": ["Nb+Nb", "Sn+Sn"], "range": ["#ff0000", "transparent"]}, "legend": null}
   }},
  {"data": {"values": [{"lab": "α"}]},
   "mark": {"type": "text", "font": "Liberation Serif", "fontSize": 21, "align": "left", "baseline": "alphabetic"},
   "encoding": {"x": {"datum": 32, "type": "quantitative", "axis": null}, "y": {"datum": 0.34, "type": "quantitative", "axis": null}, "text": {"field": "lab"}}}
 ]
},
{
 "width": 323, "height": 104.6,
 "transform": [{"filter": "datum.p === 'IMF'"}],
 "resolve": {"axis": {"x": "independent", "y": "independent"}, "legend": {"shape": "independent", "strokeDash": "independent"}},
 "layer": [
  {"mark": {"type": "rule", "clip": true, "strokeWidth": 1, "opacity": 0.45},
   "encoding": {
    "x": {"field": "x", "type": "quantitative", "scale": {"domain": [0, 1100], "nice": false}, "axis": {"orient": "bottom", "title": "TKEL (MeV)", "titleAnchor": "end", "titleFontSize": 13.5, "titlePadding": -1, "values": [0,50,100,150,200,250,300,350,400,450,500,550,600,650,700,750,800,850,900,950,1000,1050], "labelExpr": "datum.value % 200 == 0 && datum.value <= 1000 ? '' + datum.value : ''", "labelPadding": 12, "tickSize": {"condition": {"test": "datum.value % 200 == 0", "value": -6}, "value": -3}}},
    "y": {"field": "lo", "type": "quantitative", "scale": {"domain": [0, 1.1], "nice": false}, "axis": {"orient": "left", "title": null, "values": [0.1,0.2,0.3,0.4,0.5,0.6,0.7,0.8,0.9,1], "labelExpr": "datum.value == 1 ? '1' : datum.value == 0.5 ? '0.5' : ''", "labelPadding": 19, "tickSize": {"condition": {"test": "datum.value == 0.5 || datum.value == 1", "value": -7}, "value": -4}}},
    "y2": {"field": "hi"},
    "color": {"field": "s", "type": "nominal", "scale": {"domain": ["Nb+Nb", "Sn+Sn"], "range": ["#ff2020", "#3030ff"]}, "legend": null},
    "strokeDash": {"field": "E", "type": "nominal", "scale": {"domain": [38, 30, 23, 17], "range": [[1, 0], [3, 2], [5, 2, 1, 2], [1, 2]]}, "legend": null}
   }},
  {"mark": {"type": "line", "clip": true, "strokeWidth": 1, "opacity": 0.55},
   "encoding": {
    "x": {"field": "x", "type": "quantitative", "axis": {"orient": "top", "title": null, "labels": false, "minExtent": 0, "maxExtent": 0, "values": [0,50,100,150,200,250,300,350,400,450,500,550,600,650,700,750,800,850,900,950,1000,1050], "tickSize": {"condition": {"test": "datum.value % 200 == 0", "value": -6}, "value": -3}}},
    "y": {"field": "y", "type": "quantitative", "axis": {"orient": "right", "title": null, "labels": false, "minExtent": 0, "maxExtent": 0, "values": [0.1,0.2,0.3,0.4,0.5,0.6,0.7,0.8,0.9,1], "tickSize": {"condition": {"test": "datum.value == 0.5 || datum.value == 1", "value": -7}, "value": -4}}},
    "color": {"field": "s", "type": "nominal", "legend": null},
    "strokeDash": {"field": "E", "type": "nominal", "legend": null}
   }},
  {"mark": {"type": "point", "clip": true, "strokeWidth": 1, "opacity": 1},
   "encoding": {
    "x": {"field": "x", "type": "quantitative", "axis": null},
    "y": {"field": "y", "type": "quantitative", "axis": null},
    "shape": {"field": "E", "type": "nominal", "scale": {"domain": [38, 30, 23, 17], "range": ["circle", "M0,-1L0.235,-0.324L0.951,-0.309L0.38,0.124L0.588,0.809L0,0.4L-0.588,0.809L-0.38,0.124L-0.951,-0.309L-0.235,-0.324Z", "square", "triangle-up"]}, "legend": null},
    "size": {"field": "E", "type": "ordinal", "scale": {"domain": [38, 30, 23, 17], "range": [22, 40, 26, 22]}, "legend": null},
    "stroke": {"field": "s", "type": "nominal", "scale": {"domain": ["Nb+Nb", "Sn+Sn"], "range": ["#ff0000", "#0000ff"]}, "legend": null},
    "fill": {"field": "s", "type": "nominal", "scale": {"domain": ["Nb+Nb", "Sn+Sn"], "range": ["#ff0000", "transparent"]}, "legend": null}
   }},
  {"data": {"values": [{"lab": "IMF"}]},
   "mark": {"type": "text", "font": "Liberation Sans", "fontWeight": "bold", "fontSize": 21, "align": "left", "baseline": "alphabetic"},
   "encoding": {"x": {"datum": 30, "type": "quantitative", "axis": null}, "y": {"datum": 0.096, "type": "quantitative", "axis": null}, "text": {"field": "lab"}}}
 ]
}
]
}
